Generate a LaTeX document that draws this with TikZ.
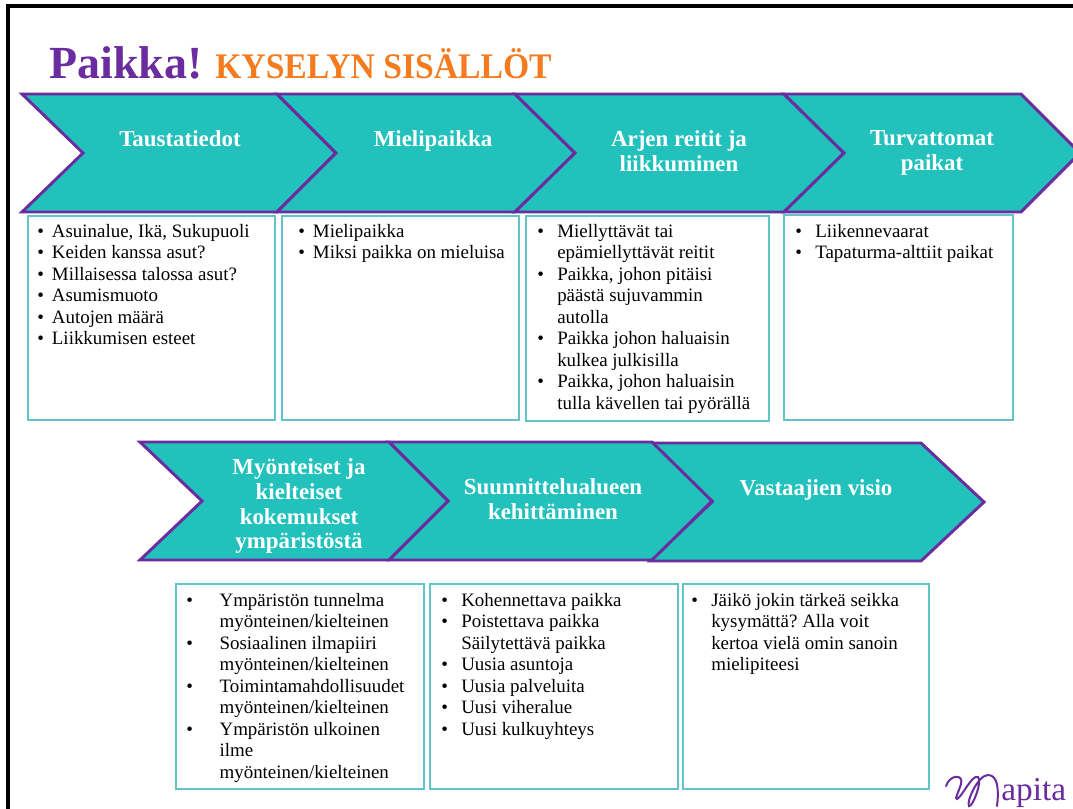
\documentclass[tikz,border=0pt]{standalone}
\usepackage{fontspec}
\setmainfont{Liberation Serif}
\newfontfamily\titlefont[FakeStretch=0.935]{Liberation Serif}
\usetikzlibrary{positioning,calc}
\usepackage{xcolor}
\definecolor{tealfill}{HTML}{22C1BC}
\definecolor{purpleline}{HTML}{6A2C9E}
\definecolor{boxline}{HTML}{62C4C8}
\definecolor{titleorange}{HTML}{F47B20}
\tikzset{
    chevronshape/.style={draw=purpleline, fill=tealfill, line width=2.2pt, line join=miter},
    chevrontext/.style={text=white, font=\fontsize{17.2}{18.7}\selectfont\bfseries, align=center, inner sep=0pt, anchor=north},
    listbox/.style={draw=boxline, line width=1.2pt, fill=white},
    listtext/.style={anchor=north west, inner sep=0pt, font=\fontsize{14.2}{16.1}\selectfont}
}
\newcommand{\blist}[2]{\frenchspacing\renewcommand{\arraystretch}{1}\begin{tabular}[t]{@{}p{#1}@{}l@{}}#2\end{tabular}}
\begin{document}
\begin{tikzpicture}[x=0.75pt, y=-0.75pt]
    \useasboundingbox (0, 0) rectangle (1073, 808);

    % Frame
    \draw[black, line width=2.3pt] (8, 812) -- (8, 6) -- (1078, 6);

    % Title
    \node[anchor=base west, inner sep=0pt, text=purpleline, font=\fontsize{34.5}{40}\selectfont\bfseries] (titlea) at (49, 78) {Paikka!};
    \node[anchor=base west, inner sep=0pt, text=titleorange, font=\titlefont\fontsize{27}{32}\selectfont\bfseries] (titleb) at (215, 78) {KYSELYN SISÄLLÖT};

    % First row of chevrons
    \draw[chevronshape] (22, 94) -- (277, 94) -- (336, 153) -- (277, 212) -- (22, 212) -- (83, 153) -- cycle;
    \draw[chevronshape] (277, 94) -- (515, 94) -- (575, 153) -- (515, 212) -- (277, 212) -- (336, 153) -- cycle;
    \draw[chevronshape] (515, 94) -- (784, 94) -- (844, 153) -- (784, 212) -- (515, 212) -- (575, 153) -- cycle;
    \draw[chevronshape] (784, 94) -- (1021, 94) -- (1080, 153) -- (1021, 212) -- (784, 212) -- (844, 153) -- cycle;
    \node[chevrontext] (heada) at (180, 130) {Taustatiedot};
    \node[chevrontext] (headb) at (433, 130) {Mielipaikka};
    \node[chevrontext] (headc) at (679, 130) {Arjen reitit ja\\liikkuminen};
    \node[chevrontext] (headd) at (932, 130) {Turvattomat\\paikat};

    % Second row of chevrons
    \draw[chevronshape] (650, 443) -- (921, 443) -- (984, 502) -- (921, 561) -- (650, 561) -- (712, 502) -- cycle;
    \draw[chevronshape] (389, 442) -- (652, 442) -- (712, 501) -- (652, 560) -- (389, 560) -- (448, 501) -- cycle;
    \draw[chevronshape] (140, 442) -- (389, 442) -- (448, 501) -- (389, 560) -- (140, 560) -- (202, 501) -- cycle;
    \node[chevrontext] (heade) at (299, 458) {Myönteiset ja\\kielteiset\\kokemukset\\ympäristöstä};
    \node[chevrontext] (headf) at (553, 478) {Suunnittelualueen\\kehittäminen};
    \node[chevrontext] (headg) at (816, 479) {Vastaajien visio};

    % First row of boxes
    \node[listbox, anchor=north west, minimum width=247*0.75pt, minimum height=204*0.75pt] (boxa) at (27, 215) {};
    \node[listbox, anchor=north west, minimum width=237*0.75pt, minimum height=204*0.75pt] (boxb) at (281, 215) {};
    \node[listbox, anchor=north west, minimum width=243*0.75pt, minimum height=205*0.75pt] (boxc) at (525, 215) {};
    \node[listbox, anchor=north west, minimum width=229*0.75pt, minimum height=205*0.75pt] (boxd) at (783, 214) {};

    \node[listtext] (lista) at (37, 222) {\blist{11pt}{
        \textbullet & Asuinalue, Ikä, Sukupuoli\\
        \textbullet & Keiden kanssa asut?\\
        \textbullet & Millaisessa talossa asut?\\
        \textbullet & Asumismuoto\\
        \textbullet & Autojen määrä\\
        \textbullet & Liikkumisen esteet}};
    \node[listtext] (listb) at (298, 222) {\blist{11pt}{
        \textbullet & Mielipaikka\\
        \textbullet & Miksi paikka on mieluisa}};
    \node[listtext] (listc) at (537, 222) {\blist{15pt}{
        \textbullet & Miellyttävät tai\\
        & epämiellyttävät reitit\\
        \textbullet & Paikka, johon pitäisi\\
        & päästä sujuvammin\\
        & autolla\\
        \textbullet & Paikka johon haluaisin\\
        & kulkea julkisilla\\
        \textbullet & Paikka, johon haluaisin\\
        & tulla kävellen tai pyörällä}};
    \node[listtext] (listd) at (795, 222) {\blist{15pt}{
        \textbullet & Liikennevaarat\\
        \textbullet & Tapaturma-alttiit paikat}};

    % Second row of boxes
    \node[listbox, anchor=north west, minimum width=248*0.75pt, minimum height=205*0.75pt] (boxe) at (175, 583) {};
    \node[listbox, anchor=north west, minimum width=248*0.75pt, minimum height=205*0.75pt] (boxf) at (429, 583) {};
    \node[listbox, anchor=north west, minimum width=246*0.75pt, minimum height=205*0.75pt] (boxg) at (682, 583) {};

    \node[listtext] (liste) at (186, 591) {\blist{25pt}{
        \textbullet & Ympäristön tunnelma\\
        & myönteinen/kielteinen\\
        \textbullet & Sosiaalinen ilmapiiri\\
        & myönteinen/kielteinen\\
        \textbullet & Toimintamahdollisuudet\\
        & myönteinen/kielteinen\\
        \textbullet & Ympäristön ulkoinen\\
        & ilme\\
        & myönteinen/kielteinen}};
    \node[listtext] (listf) at (441, 591) {\blist{15pt}{
        \textbullet & Kohennettava paikka\\
        \textbullet & Poistettava paikka\\
        & Säilytettävä paikka\\
        \textbullet & Uusia asuntoja\\
        \textbullet & Uusia palveluita\\
        \textbullet & Uusi viheralue\\
        \textbullet & Uusi kulkuyhteys}};
    \node[listtext] (listg) at (691, 591) {\blist{15pt}{
        \textbullet & Jäikö jokin tärkeä seikka\\
        & kysymättä? Alla voit\\
        & kertoa vielä omin sanoin\\
        & mielipiteesi}};

    % Logo
    \draw[purpleline, line width=1.5pt, line cap=round]
        (946, 786) .. controls (950, 774) and (964, 774) .. (961, 784)
        .. controls (959, 791) and (954, 800) .. (957, 799)
        .. controls (962, 797) and (972, 774) .. (978, 777)
        .. controls (983, 781) and (972, 808) .. (969, 806)
        .. controls (966, 802) and (978, 775) .. (988, 775)
        .. controls (998, 775) and (999, 790) .. (997, 806);
    \node[anchor=base west, inner sep=0pt, text=purpleline, font=\fontsize{25}{28}\selectfont] (logotext) at (1001, 800) {apita};
\end{tikzpicture}
\end{document}
